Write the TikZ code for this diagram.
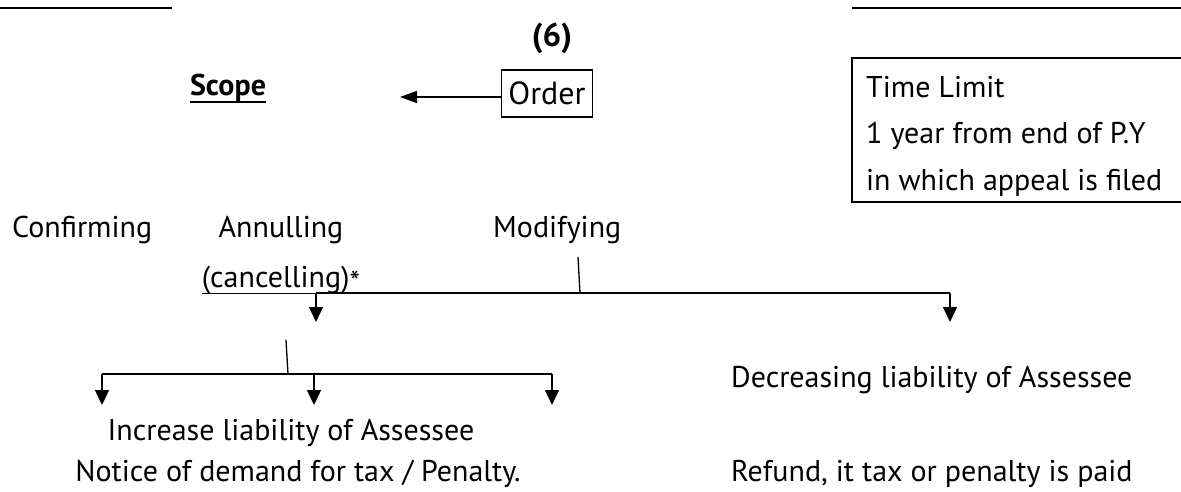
\documentclass[tikz,border=0pt]{standalone}
\usepackage{fontspec}
\setmainfont{PT Sans}
\usetikzlibrary{arrows.meta}
\begin{document}
\begin{tikzpicture}[x=1pt,y=-1pt,
  txt/.style={inner sep=0pt, font=\fontsize{30}{36}\selectfont},
  btxt/.style={inner sep=0pt, font=\bfseries\fontsize{30}{36}\selectfont},
  rule/.style={line width=2pt},
  conn/.style={line width=1.3pt},
  arr/.style={conn,-{Triangle[length=15pt,width=14pt]}},
  larr/.style={line width=1.5pt,-{Triangle[length=17pt,width=12pt]}},
]
\useasboundingbox (0,0) rectangle (1181,491);
% top rules
\coordinate (r1a) at (0,7.5); \coordinate (r1b) at (172,7.5);
\coordinate (r2a) at (852,7.5); \coordinate (r2b) at (1181,7.5);
\draw[rule] (r1a) -- (r1b);
\draw[rule] (r2a) -- (r2b);
% heading
\node[btxt, font=\bfseries\fontsize{33}{38}\selectfont, anchor=base] (six) at (552,46) {(6)};
\node[btxt, anchor=base] (scope) at (228,95) {Scope};
\draw[conn] ([yshift=-7pt]scope.base west) -- ([yshift=-7pt]scope.base east);
\node[draw, line width=1.2pt, inner sep=0pt, minimum width=91pt, minimum height=47pt,
      font=\fontsize{32}{38}\selectfont] (order) at (547,93.5) {Order};
\coordinate (sctip) at (400,97);
\draw[larr] ([yshift=-3.5pt]order.west) -- (sctip);
% time limit box
\coordinate (tla) at (1181,58); \coordinate (tlb) at (852,202); \coordinate (tlc) at (1181,202);
\draw[rule] (tla) -| (tlb) -- (tlc);
\node[txt, anchor=base west] (tl1) at (866,97) {Time Limit};
\node[txt, anchor=base west] (tl2) at (866,143.5) {1 year from end of P.Y};
\node[txt, anchor=base west] (tl3) at (866,190) {in which appeal is filed};
% scope items
\node[txt, anchor=base west] (conf) at (12,237) {Confirming};
\node[txt, anchor=base] (annul) at (281,237) {Annulling};
\node[txt, anchor=base] (canc) at (281,287) {(cancelling)\raisebox{-5pt}{*}};
\draw[conn] ([yshift=-6.5pt]canc.base west) -- ([yshift=-6.5pt]canc.base east);
\node[txt, anchor=base west] (modif) at (493,237) {Modifying};
% modifying connector
\coordinate (m1) at (578,257); \coordinate (m2) at (580,293);
\coordinate (a1) at (316,293); \coordinate (a2) at (950,293);
\coordinate (t1) at (316,322); \coordinate (t2) at (950,322);
\draw[conn] (m1) -- (m2);
\draw[conn] (a1) -- (a2);
\draw[arr] (a1) -- (t1);
\draw[arr] (a2) -- (t2);
% lower split
\coordinate (b0) at (286,340); \coordinate (b1) at (288,374);
\coordinate (c1) at (102,374); \coordinate (c2) at (314,374); \coordinate (c3) at (552,374);
\coordinate (d1) at (102,405); \coordinate (d2) at (314,405); \coordinate (d3) at (552,405);
\draw[conn] (b0) -- (b1);
\draw[conn] (c1) -- (c3);
\draw[arr] (c1) -- (d1);
\draw[arr] (c2) -- (d2);
\draw[arr] (c3) -- (d3);
% outcome texts
\node[txt, anchor=base] (incr) at (291,440) {Increase liability of Assessee};
\node[txt, anchor=base] (notice) at (298,481) {Notice of demand for tax / Penalty.};
\node[txt, anchor=base west] (decr) at (731,387) {Decreasing liability of Assessee};
\node[txt, anchor=base west] (refund) at (731,481) {Refund, it tax or penalty is paid};
\end{tikzpicture}
\end{document}
